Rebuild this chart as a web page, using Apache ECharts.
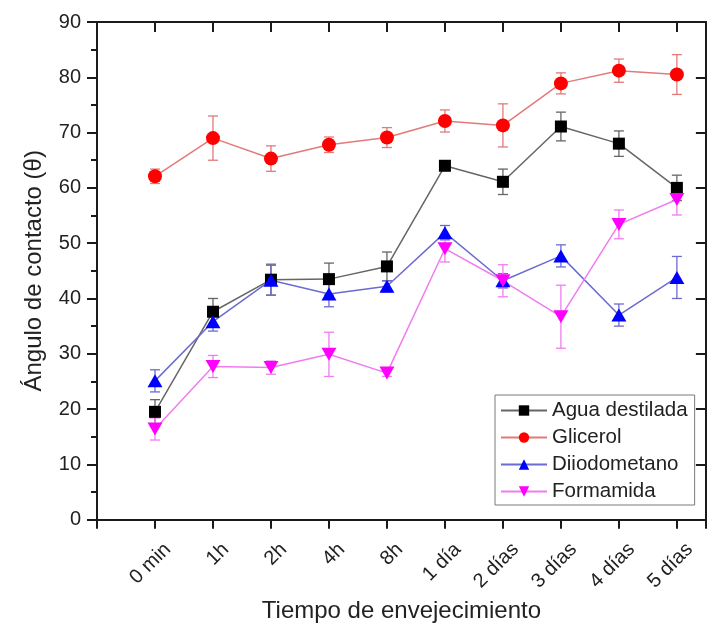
<!DOCTYPE html>
<html>
<head>
<meta charset="utf-8">
<script src="https://cdn.jsdelivr.net/npm/echarts@6/dist/echarts.min.js"></script>
<style>
  html, body { margin: 0; padding: 0; background: #fff; }
  #chart { width: 708px; height: 628px; }
</style>
</head>
<body>
<div id="chart"></div>
<script>
// Contact angle vs. ageing time for four probe liquids (mean ± sd)
const categories = ['0 min', '1h', '2h', '4h', '8h', '1 día', '2 días', '3 días', '4 días', '5 días'];

const agua        = [19.5, 37.6, 43.4, 43.5, 45.8, 64.0, 61.1, 71.1, 68.0, 60.0];
const aguaErr     = [2.2, 2.4, 2.8, 2.9, 2.6, 0.6, 2.3, 2.6, 2.3, 2.3];
const glicerol    = [62.1, 69.0, 65.3, 67.8, 69.1, 72.1, 71.3, 78.9, 81.2, 80.5];
const glicerolErr = [1.3, 4.0, 2.3, 1.4, 1.8, 2.0, 3.9, 1.9, 2.1, 3.6];
const diiodo      = [25.1, 35.8, 43.3, 40.8, 42.2, 51.9, 43.2, 47.7, 37.0, 43.8];
const diiodoErr   = [2.0, 1.7, 2.7, 2.3, 1.0, 1.3, 1.3, 2.0, 2.0, 3.8];
const formamida   = [16.4, 27.7, 27.5, 29.9, 26.5, 49.0, 43.2, 36.7, 53.4, 57.9];
const formamidaErr= [2.0, 2.0, 1.2, 4.0, 0.6, 2.4, 2.9, 5.7, 2.6, 2.8];

const yTicks = { min: 0, max: 90, step: 10 };

const FONT = '"Liberation Sans", Arial, sans-serif';
const AXIS_COLOR = '#1a1a1a';

const liquids = [
  { name: 'Agua destilada', values: agua,      errors: aguaErr,      color: '#000000', line: '#666666', symbol: 'rect',     size: 12 },
  { name: 'Glicerol',       values: glicerol,  errors: glicerolErr,  color: '#ff0000', line: '#e27a7a', symbol: 'circle',   size: 14 },
  { name: 'Diiodometano',   values: diiodo,    errors: diiodoErr,    color: '#0000ff', line: '#6b6bd0', symbol: 'triangle', size: [15, 13] },
  { name: 'Formamida',      values: formamida, errors: formamidaErr, color: '#ff00ff', line: '#f07cf0', symbol: 'path://M0,0 L14,0 L7,12 Z', size: [15, 13] }
];

function errorBarRenderer(color) {
  return function (params, api) {
    const x = api.value(0), y = api.value(1), e = api.value(2);
    const hi = api.coord([x, y + e]);
    const lo = api.coord([x, y - e]);
    const cap = 5;
    const style = { stroke: color, lineWidth: 1.3 };
    return {
      type: 'group',
      children: [
        { type: 'line', shape: { x1: hi[0], y1: hi[1], x2: lo[0], y2: lo[1] }, style },
        { type: 'line', shape: { x1: hi[0] - cap, y1: hi[1], x2: hi[0] + cap, y2: hi[1] }, style },
        { type: 'line', shape: { x1: lo[0] - cap, y1: lo[1], x2: lo[0] + cap, y2: lo[1] }, style }
      ]
    };
  };
}

const series = [];
liquids.forEach(function (s) {
  series.push({
    name: s.name + ' error',
    type: 'custom',
    renderItem: errorBarRenderer(s.line),
    data: s.values.map(function (v, i) { return [i, v, s.errors[i]]; }),
    encode: { x: 0, y: 1 },
    silent: true,
    z: 1
  });
  series.push({
    name: s.name,
    type: 'line',
    data: s.values.map(function (v, i) { return [i, v]; }),
    symbol: s.symbol,
    symbolSize: s.size,
    showAllSymbol: true,
    itemStyle: { color: s.color, opacity: 1 },
    lineStyle: { color: s.line, width: 1.5 },
    emphasis: { disabled: true },
    animation: false,
    z: 2
  });
});

function catLabel(v) {
  return (Number.isInteger(v) && v >= 0 && v < categories.length) ? categories[v] : '';
}

const axisLine = { show: true, onZero: false, lineStyle: { color: AXIS_COLOR, width: 2 } };

const option = {
  animation: false,
  backgroundColor: '#ffffff',
  textStyle: { fontFamily: FONT },
  grid: { left: 97, top: 22, width: 618, height: 499, containLabel: false },
  legend: {
    data: liquids.map(function (s) { return s.name; }),
    orient: 'vertical',
    left: 495,
    top: 395,
    itemWidth: 46,
    itemHeight: 13,
    itemGap: 6,
    padding: [5, 7, 3, 5],
    borderColor: '#7a7a7a',
    borderWidth: 1,
    backgroundColor: '#ffffff',
    textStyle: { fontFamily: FONT, fontSize: 20.5, color: '#222' },
    selectedMode: false
  },
  xAxis: [
    {
      type: 'value',
      position: 'bottom',
      min: -1, max: 9.5, interval: 1,
      name: 'Tiempo de envejecimiento',
      nameLocation: 'middle',
      nameGap: 77,
      nameTextStyle: { fontFamily: FONT, fontSize: 24, color: '#222' },
      axisLine: axisLine,
      axisTick: { show: true, inside: false, length: 9, lineStyle: { color: AXIS_COLOR, width: 2 } },
      axisLabel: {
        formatter: catLabel,
        rotate: 45,
        align: 'right',
        verticalAlign: 'top',
        padding: [8, 0, 0, 0],
        margin: 14,
        fontFamily: FONT, fontSize: 20, color: '#222'
      },
      splitLine: { show: false }
    },
    {
      type: 'value',
      position: 'top',
      min: -1, max: 9.5, interval: 1,
      axisLine: axisLine,
      axisTick: { show: true, inside: true, length: 10, lineStyle: { color: AXIS_COLOR, width: 2 } },
      axisLabel: { show: false },
      splitLine: { show: false }
    }
  ],
  yAxis: [
    {
      type: 'value',
      position: 'left',
      min: yTicks.min, max: yTicks.max, interval: yTicks.step,
      name: 'Ángulo de contacto (θ)',
      nameLocation: 'middle',
      nameGap: 51,
      nameTextStyle: { fontFamily: FONT, fontSize: 24, color: '#222' },
      axisLine: axisLine,
      axisTick: { show: true, inside: false, length: 10, lineStyle: { color: AXIS_COLOR, width: 2 } },
      minorTick: { show: true, splitNumber: 2, length: 6, lineStyle: { color: AXIS_COLOR, width: 2 } },
      axisLabel: { margin: 16, fontFamily: FONT, fontSize: 20, color: '#222' },
      splitLine: { show: false },
      minorSplitLine: { show: false }
    },
    {
      type: 'value',
      position: 'right',
      min: yTicks.min, max: yTicks.max, interval: yTicks.step,
      axisLine: axisLine,
      axisTick: { show: true, inside: true, length: 10, lineStyle: { color: AXIS_COLOR, width: 2 } },
      axisLabel: { show: false },
      splitLine: { show: false }
    }
  ],
  series: series
};

const chart = echarts.init(document.getElementById('chart'), null, { renderer: 'canvas' });
chart.setOption(option);
</script>
</body>
</html>
